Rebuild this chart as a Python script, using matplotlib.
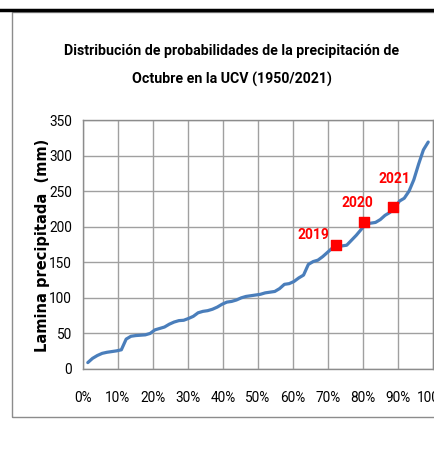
import matplotlib
matplotlib.use("Agg")
import matplotlib.pyplot as plt
from matplotlib.patches import Rectangle
from matplotlib.lines import Line2D
from matplotlib.ticker import FuncFormatter

W, H = 435, 459
n = 72
prob = [i / (n + 1) for i in range(1, n + 1)]
lamina = [9, 15, 19, 22, 23.5, 24.5, 25.5, 27, 42, 46, 47, 47.5, 48, 50, 55, 57,
          59, 63, 66, 68, 68.5, 71, 74, 79, 81, 82, 84, 87, 91, 94, 95, 97,
          100, 102, 103, 104, 105, 107, 108, 109, 113, 119, 120, 123, 128, 132,
          147, 151, 153, 158, 164, 170, 173, 173, 174, 181, 188, 196, 204, 205,
          206, 210, 216, 220, 226, 236, 240, 250, 266, 288, 308, 319]

years = ["2019", "2020", "2021"]
year_prob = [0.723, 0.804, 0.887]
year_val = [175, 206, 228]

yticks = [0, 50, 100, 150, 200, 250, 300, 350]
xticks = [0, 0.1, 0.2, 0.3, 0.4, 0.5, 0.6, 0.7, 0.8, 0.9, 1.0]

NARROW = ["Roboto", "DejaVu Sans"]

fig = plt.figure(figsize=(W / 100, H / 100), dpi=100)
fig.patch.set_facecolor("white")

# outer chart border
fig.patches.append(Rectangle((12 / W, 1 - 417 / H), 1.0, (417 - 12) / H,
                             transform=fig.transFigure, fill=False,
                             edgecolor="#8c8c8c", linewidth=1.0))
# top black rule
fig.lines.append(Line2D([0, 1], [1 - 10 / H, 1 - 10 / H], transform=fig.transFigure,
                        color="black", linewidth=2.5))

ax = fig.add_axes([83 / W, 1 - 369 / H, 350 / W, 249 / H])
ax.set_xlim(0, 1)
ax.set_ylim(0, 350)
ax.set_xticks(xticks)
ax.set_yticks(yticks)
ax.xaxis.set_major_formatter(FuncFormatter(lambda v, p: f"{int(round(v * 100))}%"))
ax.grid(True, color="#a0a0a0", linewidth=1.0)
ax.set_axisbelow(True)
for s in ax.spines.values():
    s.set_color("#8c8c8c")
    s.set_linewidth(1.0)
ax.tick_params(length=0, labelsize=9.8, colors="black")
ax.tick_params(axis="y", pad=8)
ax.tick_params(axis="x", pad=16)
for lab in ax.get_xticklabels() + ax.get_yticklabels():
    lab.set_family(NARROW)

ax.plot(prob, lamina, color="#4a7ebb", linewidth=2.3, solid_joinstyle="round",
        solid_capstyle="round", zorder=3)
ax.scatter(year_prob, year_val, marker="s", s=45, color="#ff0000", zorder=4)
offsets = [(-0.065, 14), (-0.02, 27), (0.004, 39)]
for yr, px, pv, (dx, dy) in zip(years, year_prob, year_val, offsets):
    ax.text(px + dx, pv + dy, yr, color="#ff0000", fontsize=10, fontweight="bold",
            family=NARROW, ha="center", va="center", zorder=5)

ax.set_ylabel("Lamina precipitada  (mm)", fontsize=10.5, fontweight="bold",
              family="DejaVu Sans")
ax.yaxis.set_label_coords(-33 / 350, 0.498)

fig.text(232 / W, 1 - 51 / H, "Distribución de probabilidades de la precipitación de",
         ha="center", va="center", fontsize=10.2, fontweight="bold", family=NARROW)
fig.text(232 / W, 1 - 79 / H, "Octubre en la UCV (1950/2021)",
         ha="center", va="center", fontsize=10.2, fontweight="bold", family=NARROW)

fig.savefig("out.png", dpi=100, facecolor="white")
